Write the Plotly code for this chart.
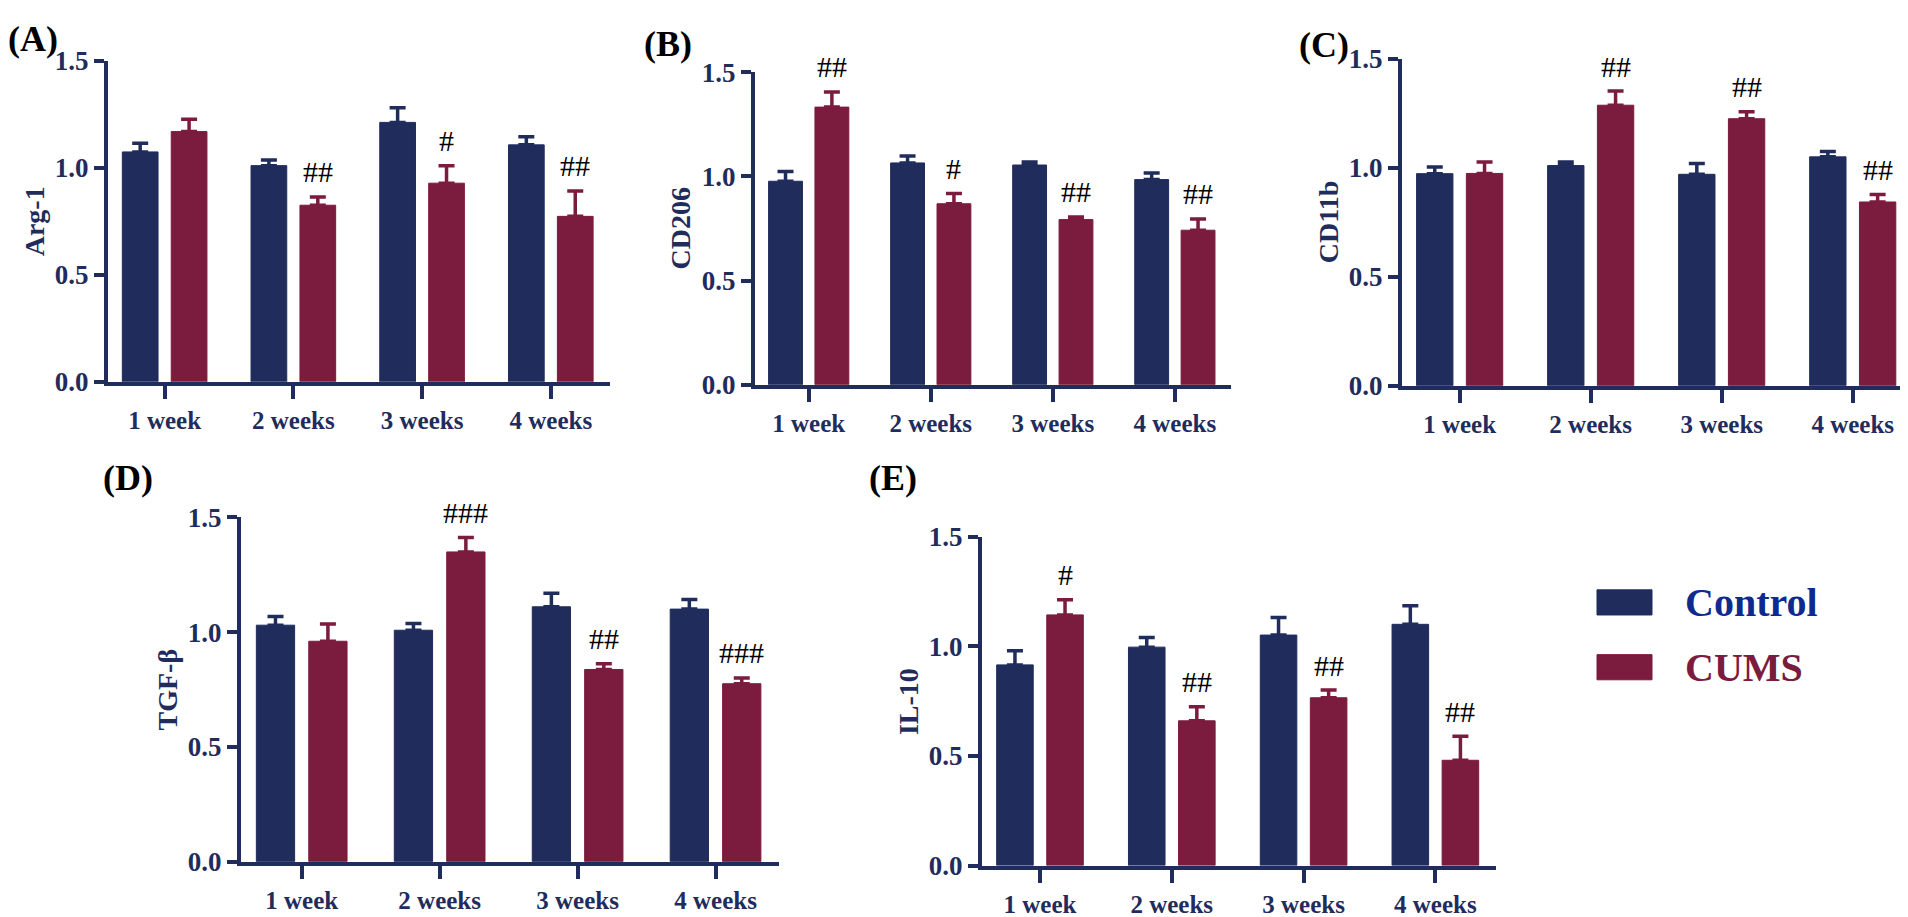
import plotly.graph_objects as go

categories = ["1 week", "2 weeks", "3 weeks", "4 weeks"]
groups = ["Control", "CUMS"]

arg1_control = [1.074, 1.010, 1.212, 1.107]
arg1_control_err = [0.040, 0.026, 0.068, 0.038]
arg1_cums = [1.169, 0.825, 0.928, 0.773]
arg1_cums_err = [0.058, 0.039, 0.081, 0.119]
arg1_marks = ["", "##", "#", "##"]

cd206_control = [0.977, 1.065, 1.055, 0.985]
cd206_control_err = [0.047, 0.033, 0.015, 0.032]
cd206_cums = [1.333, 0.869, 0.793, 0.742]
cd206_cums_err = [0.073, 0.049, 0.013, 0.054]
cd206_marks = ["##", "#", "##", "##"]

cd11b_control = [0.973, 1.010, 0.970, 1.050]
cd11b_control_err = [0.031, 0.016, 0.050, 0.025]
cd11b_cums = [0.974, 1.287, 1.225, 0.843]
cd11b_cums_err = [0.052, 0.065, 0.032, 0.034]
cd11b_marks = ["", "##", "##", "##"]

tgfb_control = [1.030, 1.008, 1.110, 1.100]
tgfb_control_err = [0.038, 0.029, 0.059, 0.042]
tgfb_cums = [0.960, 1.349, 0.837, 0.775]
tgfb_cums_err = [0.075, 0.063, 0.025, 0.025]
tgfb_marks = ["", "###", "##", "###"]

il10_control = [0.915, 0.996, 1.051, 1.100]
il10_control_err = [0.065, 0.044, 0.080, 0.085]
il10_cums = [1.143, 0.660, 0.765, 0.480]
il10_cums_err = [0.069, 0.064, 0.035, 0.110]
il10_marks = ["#", "##", "##", "##"]

y_ticks = [0.0, 0.5, 1.0, 1.5]

NAVY = "#1f2c5c"
MAROON = "#7b1b3d"
SERIF = "Liberation Serif, Times New Roman, serif"
W, H = 1908, 917

def px_x(a, b):
    return [a / W, b / W]

def px_y(bottom, top):
    return [1 - bottom / H, 1 - top / H]

panels = [
    dict(label="(A)", title="Arg-1", c=arg1_control, ce=arg1_control_err, m=arg1_cums, me=arg1_cums_err,
         marks=arg1_marks, xd=px_x(100, 602), yd=px_y(371, 39), lab=(25, 17)),
    dict(label="(B)", title="CD206", c=cd206_control, ce=cd206_control_err, m=cd206_cums, me=cd206_cums_err,
         marks=cd206_marks, xd=px_x(747, 1223), yd=px_y(374, 51), lab=(660, 22)),
    dict(label="(C)", title="CD11b", c=cd11b_control, ce=cd11b_control_err, m=cd11b_cums, me=cd11b_cums_err,
         marks=cd11b_marks, xd=px_x(1394, 1905), yd=px_y(375, 37), lab=(1316, 23)),
    dict(label="(D)", title="TGF-β", c=tgfb_control, ce=tgfb_control_err, m=tgfb_cums, me=tgfb_cums_err,
         marks=tgfb_marks, xd=px_x(233, 771), yd=px_y(867, 511), lab=(120, 470)),
    dict(label="(E)", title="IL-10", c=il10_control, ce=il10_control_err, m=il10_cums, me=il10_cums_err,
         marks=il10_marks, xd=px_x(974, 1488), yd=px_y(871, 531), lab=(885, 470)),
]

BARGAP = 0.24
SLOT = (1 - BARGAP) / 2
xpos = list(range(len(categories)))

fig = go.Figure()
annotations = []
layout = {}

for k, p in enumerate(panels, start=1):
    xa = "x" if k == 1 else f"x{k}"
    ya = "y" if k == 1 else f"y{k}"
    for vals, errs, color, name in [(p["c"], p["ce"], NAVY, groups[0]), (p["m"], p["me"], MAROON, groups[1])]:
        fig.add_trace(go.Bar(
            x=xpos, y=vals, name=name, xaxis=xa, yaxis=ya, showlegend=False,
            marker=dict(color=color, line=dict(color=color, width=1)),
            error_y=dict(type="data", array=errs, arrayminus=[0] * len(errs), symmetric=False,
                         color=color, thickness=3.5, width=8),
        ))
    xkey = "xaxis" if k == 1 else f"xaxis{k}"
    ykey = "yaxis" if k == 1 else f"yaxis{k}"
    layout[xkey] = dict(
        domain=p["xd"], anchor=ya, range=[-0.44, 3.46], tickmode="array", tickvals=xpos,
        ticktext=categories, showline=True, linecolor=NAVY, linewidth=4, ticks="outside",
        ticklen=13, tickwidth=4, tickcolor=NAVY, showgrid=False, zeroline=False, fixedrange=True,
        tickfont=dict(family=SERIF, size=25, color=NAVY, weight="bold"),
    )
    layout[ykey] = dict(
        domain=p["yd"], anchor=xa, range=[0, 1.5], tickmode="array", tickvals=y_ticks,
        tickformat=".1f", showline=True, linecolor=NAVY, linewidth=4, ticks="outside",
        ticklen=10, tickwidth=4, tickcolor=NAVY, showgrid=False, zeroline=False,
        tickfont=dict(family=SERIF, size=27, color=NAVY, weight="bold"),
    )
    annotations.append(dict(
        text=p["title"], xref=f"{xa} domain", yref=f"{ya} domain", x=0, y=0.5,
        xshift=-74, textangle=-90, showarrow=False, xanchor="center", yanchor="middle",
        font=dict(family=SERIF, size=28, color=NAVY, weight="bold"),
    ))
    annotations.append(dict(
        text=p["label"], xref="paper", yref="paper", x=p["lab"][0] / W, y=1 - p["lab"][1] / H,
        showarrow=False, xanchor="center", yanchor="middle",
        font=dict(family=SERIF, size=36, color="black", weight="bold"),
    ))
    for i, mk in enumerate(p["marks"]):
        if mk:
            annotations.append(dict(
                text=mk, xref=xa, yref=ya, x=xpos[i] + SLOT / 2, y=p["m"][i] + p["me"][i],
                yshift=25, showarrow=False, xanchor="center", yanchor="middle",
                font=dict(family=SERIF, size=30, color="black"),
            ))

shapes = []
legend_items = [(groups[0], NAVY, "#0d2b8f", 586, 612), (groups[1], MAROON, MAROON, 653, 679)]
for name, fill, tcolor, top, bot in legend_items:
    shapes.append(dict(type="rect", xref="paper", yref="paper",
                       x0=1589 / W, x1=1644 / W, y0=1 - bot / H, y1=1 - top / H,
                       fillcolor=fill, line=dict(color=fill, width=1)))
    annotations.append(dict(
        text=name, xref="paper", yref="paper", x=1675 / W, y=1 - (top + bot) / 2 / H,
        showarrow=False, xanchor="left", yanchor="middle",
        font=dict(family=SERIF, size=40, color=tcolor, weight="bold"),
    ))

fig.update_layout(
    width=W, height=H, margin=dict(l=0, r=0, t=0, b=0),
    paper_bgcolor="white", plot_bgcolor="white",
    barmode="group", bargap=BARGAP, bargroupgap=0.27,
    annotations=annotations, shapes=shapes, showlegend=False,
    **layout,
)

fig.write_html("out.html")
